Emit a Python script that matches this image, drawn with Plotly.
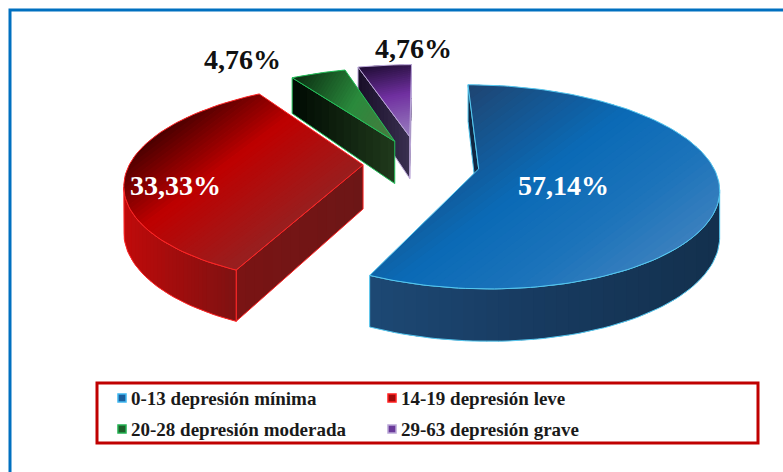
import numpy as np
import plotly.graph_objects as go

# ---------------- data ----------------
categories = ["0-13 depresión mínima", "14-19 depresión leve",
              "20-28 depresión moderada", "29-63 depresión grave"]
values = [57.14, 33.33, 4.76, 4.76]
value_labels = ["57,14%", "33,33%", "4,76%", "4,76%"]

# ---------------- style ----------------
top_stops = [
    [(0.0, "#1F4470"), (0.45, "#0A6AB6"), (0.75, "#1C73BA"), (1.0, "#3A80BE")],
    [(0.0, "#4A0000"), (0.42, "#BE0000"), (0.72, "#AA1111"), (1.0, "#962020")],
    [(0.0, "#0A2A10"), (0.55, "#2A8A3C"), (1.0, "#4A7A40")],
    [(0.0, "#1E0C33"), (0.45, "#7030A0"), (1.0, "#9A80C0")],
]
top_dirs = [(0.6, 0.8), (0.6, 0.8), (0.85, 0.5), (0.2, 1.0)]
outer_stops = [
    [(0.0, "#1D4874"), (0.5, "#173A5F"), (1.0, "#13304D")],
    [(0.0, "#C00A0A"), (0.6, "#980E0E"), (1.0, "#7E1212")],
    [(0.0, "#15331A"), (1.0, "#15331A")],
    [(0.0, "#30243F"), (1.0, "#30243F")],
]
radial_stops = [
    [(0.0, "#112844"), (1.0, "#112844")],
    [(0.0, "#7A1414"), (1.0, "#6C1616")],
    [(0.0, "#000A02"), (1.0, "#203A1C")],
    [(0.0, "#180E28"), (1.0, "#3A3050")],
]
edge_colors = ["#55C8F0", "#FF2525", "#23C05A", "#BBA8D8"]
legend_fill = ["#1B5E9C", "#A00A0A", "#1E5E2A", "#6A3A9A"]
legend_edge = ["#3FB6F0", "#FF2020", "#22B050", "#B9A6D6"]
label_colors = ["white", "white", "#111111", "#111111"]
label_radius = [0.38, 0.79, 1.46, 1.34]
label_shift_deg = [12.0, -10.0, -12.3, 8.9]
pull = [0.26, 0.24, 0.25, 0.28]

W, Hh = 783, 472
CX, CY = 419.0, 163.0      # projected pie centre
RX, RY = 233.0, 100.0      # ellipse radii
PERSP = 0.18               # perspective strength
DEPTH = 44.0               # wall height
SERIF = "Liberation Serif, Times New Roman, serif"


def proj(u, v, z=0.0):
    k = 1.0 + PERSP * v
    return CX + RX * u * k, CY + RY * v * k + DEPTH * z * k


def rim(c, th, r=1.0):
    return c[0] + r * np.sin(th), c[1] - r * np.cos(th)


def area(pts):
    s = 0.0
    n = len(pts)
    for i in range(n):
        x1, y1 = pts[i]
        x2, y2 = pts[(i + 1) % n]
        s += x1 * y2 - x2 * y1
    return s / 2.0


def hex2rgb(h):
    h = h.lstrip("#")
    return tuple(int(h[i:i + 2], 16) for i in (0, 2, 4))


def grad(stops, t):
    t = min(max(t, 0.0), 1.0)
    for (t0, c0), (t1, c1) in zip(stops, stops[1:]):
        if t <= t1:
            f = (t - t0) / (t1 - t0) if t1 > t0 else 0.0
            a, b = hex2rgb(c0), hex2rgb(c1)
            r = [round(a[j] + (b[j] - a[j]) * f) for j in range(3)]
            return "rgb(%d,%d,%d)" % tuple(r)
    return "rgb(%d,%d,%d)" % hex2rgb(stops[-1][1])


def clip(poly, nx, ny, d):
    """keep the part of poly with nx*x + ny*y <= d"""
    out = []
    n = len(poly)
    for i in range(n):
        P, Q = poly[i], poly[(i + 1) % n]
        fp = nx * P[0] + ny * P[1] - d
        fq = nx * Q[0] + ny * Q[1] - d
        if fp <= 0:
            out.append(P)
        if (fp < 0 < fq) or (fq < 0 < fp):
            t = fp / (fp - fq)
            out.append((P[0] + t * (Q[0] - P[0]), P[1] + t * (Q[1] - P[1])))
    return out


def fill_trace(pts, color):
    xs = [p[0] for p in pts] + [pts[0][0]]
    ys = [p[1] for p in pts] + [pts[0][1]]
    return go.Scatter(x=xs, y=ys, fill="toself", fillcolor=color, mode="none",
                      hoverinfo="skip", showlegend=False)


def edge_trace(pts, color):
    xs = [p[0] for p in pts] + [pts[0][0]]
    ys = [p[1] for p in pts] + [pts[0][1]]
    return go.Scatter(x=xs, y=ys, mode="lines", line=dict(color=color, width=1),
                      hoverinfo="skip", showlegend=False)


fig = go.Figure()


def gradient_fill(poly, stops, direction, nstrips):
    dx, dy = direction
    dn = np.hypot(dx, dy)
    dx, dy = dx / dn, dy / dn
    ts = [p[0] * dx + p[1] * dy for p in poly]
    tmin, tmax = min(ts), max(ts)
    edges = np.linspace(tmin, tmax, nstrips + 1)
    for j in range(nstrips):
        lo, hi = edges[j], edges[j + 1]
        hi_ext = hi + (0.9 if j < nstrips - 1 else 0.0)
        part = clip(poly, dx, dy, hi_ext)
        if len(part) < 3:
            continue
        part = clip(part, -dx, -dy, -lo)
        if len(part) < 3:
            continue
        tt = (0.5 * (lo + hi) - tmin) / max(tmax - tmin, 1e-9)
        fig.add_trace(fill_trace(part, grad(stops, tt)))


total = float(sum(values))
fracs = [v / total for v in values]
starts = np.concatenate([[0.0], np.cumsum(fracs)[:-1]]) * 2 * np.pi
ends = np.cumsum(fracs) * 2 * np.pi

slices = []
for i in range(len(values)):
    a0, a1 = starts[i], ends[i]
    m = 0.5 * (a0 + a1)
    c = (pull[i] * np.sin(m), -pull[i] * np.cos(m))
    slices.append(dict(i=i, a0=a0, a1=a1, m=m, c=c))

# back-to-front drawing order
for s in sorted(slices, key=lambda d: d["c"][1]):
    i, a0, a1, c = s["i"], s["a0"], s["a1"], s["c"]
    n = max(3, int(np.degrees(a1 - a0) / 1.5) + 2)
    ths = np.linspace(a0, a1, n)
    top = [proj(*rim(c, t)) for t in ths]
    bot = [proj(*rim(c, t), 1.0) for t in ths]
    ct = proj(*c)
    cb = proj(*c, 1.0)

    # radial walls
    for a, want in ((a0, -1), (a1, 1)):
        quad = [ct, proj(*rim(c, a)), proj(*rim(c, a), 1.0), cb]
        if area(quad) * want > 0:
            gradient_fill(quad, radial_stops[i], (1.0, 0.0), 14)
            fig.add_trace(edge_trace(quad, edge_colors[i]))

    # outer curved wall (visible runs only)
    vis = [area([top[j], top[j + 1], bot[j + 1], bot[j]]) < 0 for j in range(n - 1)]
    j = 0
    while j < n - 1:
        if vis[j]:
            k = j
            while k + 1 < n - 1 and vis[k + 1]:
                k += 1
            outline = top[j:k + 2] + bot[j:k + 2][::-1]
            gradient_fill(outline, outer_stops[i], (1.0, 0.0), 30)
            fig.add_trace(edge_trace(outline, edge_colors[i]))
            j = k + 1
        else:
            j += 1

    # top face
    face = [ct] + top
    gradient_fill(face, top_stops[i], top_dirs[i], 40)
    fig.add_trace(edge_trace(face, edge_colors[i]))

# value labels
for s in slices:
    i = s["i"]
    th = s["m"] + np.radians(label_shift_deg[i])
    lx, ly = proj(*rim(s["c"], th, label_radius[i]))
    fig.add_annotation(x=lx, y=ly, text=value_labels[i], showarrow=False,
                       xanchor="center", yanchor="middle",
                       font=dict(family=SERIF, size=28, color=label_colors[i],
                                 weight="bold"))

# outer frame
fig.add_shape(type="rect", x0=10, y0=10, x1=W + 20, y1=Hh + 20,
              line=dict(color="#0070C0", width=3), layer="below")

# legend box
LX0, LY0, LX1, LY1 = 97, 383, 758, 443
fig.add_shape(type="rect", x0=LX0, y0=LY0, x1=LX1, y1=LY1,
              line=dict(color="#C00000", width=3))
col_x = [118, 388]
row_y = [398, 429]
for i, name in enumerate(categories):
    x0 = col_x[i % 2]
    y0 = row_y[i // 2]
    fig.add_shape(type="rect", x0=x0, y0=y0 - 4, x1=x0 + 8, y1=y0 + 4,
                  fillcolor=legend_fill[i], line=dict(color=legend_edge[i], width=1.5))
    fig.add_annotation(x=x0 + 11, y=y0, text=name, showarrow=False,
                       xanchor="left", yanchor="middle",
                       font=dict(family=SERIF, size=19, color="#1A1A1A", weight="bold"))

fig.update_layout(
    width=W, height=Hh,
    margin=dict(l=0, r=0, t=0, b=0),
    paper_bgcolor="white", plot_bgcolor="white",
    showlegend=False,
    xaxis=dict(range=[0, W], visible=False, fixedrange=True),
    yaxis=dict(range=[Hh, 0], visible=False, fixedrange=True),
)

fig.write_html("out.html", config={"displayModeBar": False},
               post_script="document.body.style.margin='0';")
